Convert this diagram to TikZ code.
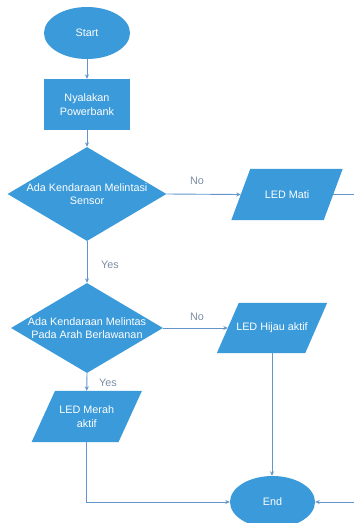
\documentclass[tikz,border=0pt]{standalone}
\usepackage{fontspec}
\setmainfont{Liberation Sans}
\usetikzlibrary{shapes.geometric,arrows.meta,backgrounds}
\definecolor{flowblue}{HTML}{3A9ADA}
\definecolor{linkblue}{HTML}{6395CB}
\definecolor{lblgray}{HTML}{7D8DA3}
\tikzset{
  x=1pt, y=-1pt,
  shapetxt/.style={text=white, font=\fontsize{10.8}{13.5}\selectfont, align=center, inner sep=0pt},
  term/.style={shapetxt, ellipse, fill=flowblue, minimum width=#1, minimum height=52pt},
  procbox/.style={shapetxt, rectangle, fill=flowblue, minimum width=86pt, minimum height=51pt},
  decide/.style={diamond, fill=flowblue, inner sep=0pt, minimum width=#1},
  paranode/.style={shapetxt, rectangle, minimum height=51pt},
  lbl/.style={text=lblgray, font=\fontsize{10.8}{12}\selectfont, inner sep=0pt},
  link/.style={draw=linkblue, line width=0.9pt},
  arr/.style={link, -{Stealth[length=4.5pt,width=4pt]}},
}
\begin{document}
\begin{tikzpicture}
\useasboundingbox (0,0) rectangle (354,523);
% terminals and process
\node[term=86pt] (start) at (87,33) {Start};
\node[procbox] (power) at (87,104.5) {Nyalakan\\Powerbank};
% decisions
\node[decide=159pt, minimum height=94pt] (d1) at (87,194) {};
\node[shapetxt] (d1t) at (87,194) {Ada Kendaraan Melintasi\\Sensor};
\node[decide=152pt, minimum height=90pt] (d2) at (87,328) {};
\node[shapetxt] (d2t) at (87,328) {Ada Kendaraan Melintas\\Pada Arah Berlawanan};
% parallelograms (anchor boxes)
\node[paranode, minimum width=92pt] (mati) at (287,194.5) {LED Mati};
\node[paranode, minimum width=88pt, minimum height=50pt] (hijau) at (272,328) {LED Hijau aktif};
\node[paranode, minimum width=86.5pt] (merah) at (86.75,416.5) {LED Merah\\aktif};
\begin{pgfonlayer}{background}
\fill[flowblue] ([xshift=9.5pt]mati.north west) -- ([xshift=9.5pt]mati.north east)
  -- ([xshift=-9.5pt]mati.south east) -- ([xshift=-9.5pt]mati.south west) -- cycle;
\fill[flowblue] ([xshift=11pt]hijau.north west) -- ([xshift=11pt]hijau.north east)
  -- ([xshift=-11pt]hijau.south east) -- ([xshift=-11pt]hijau.south west) -- cycle;
\fill[flowblue] ([xshift=11.75pt]merah.north west) -- ([xshift=11.75pt]merah.north east)
  -- ([xshift=-11.75pt]merah.south east) -- ([xshift=-11.75pt]merah.south west) -- cycle;
\end{pgfonlayer}
\node[term=85pt] (end) at (272.5,502) {End};
% off-page coordinates on the right
\coordinate (rtop) at (360,194.5);
\coordinate (rbot) at (360,502);
% connectors
\draw[arr] (start) -- (power);
\draw[arr] (power) -- (d1);
\draw[arr] (d1.east) -- (mati.west);
\draw[link] (mati.east) -- (rtop);
\draw[arr] (d1.south) -- (d2.north);
\draw[arr] (d2.east) -- (hijau.west);
\draw[arr] (d2.south) -- (merah.north);
\draw[arr] (hijau.south) -- (hijau.south |- end.north);
\draw[arr] (merah.south) |- (end.west);
\draw[arr] (rbot) -- (end.east);
% labels
\node[lbl] (no1) at (197,181) {No};
\node[lbl] (yes1) at (110,265) {Yes};
\node[lbl] (no2) at (197,317) {No};
\node[lbl] (yes2) at (108,383) {Yes};
\end{tikzpicture}
\end{document}
